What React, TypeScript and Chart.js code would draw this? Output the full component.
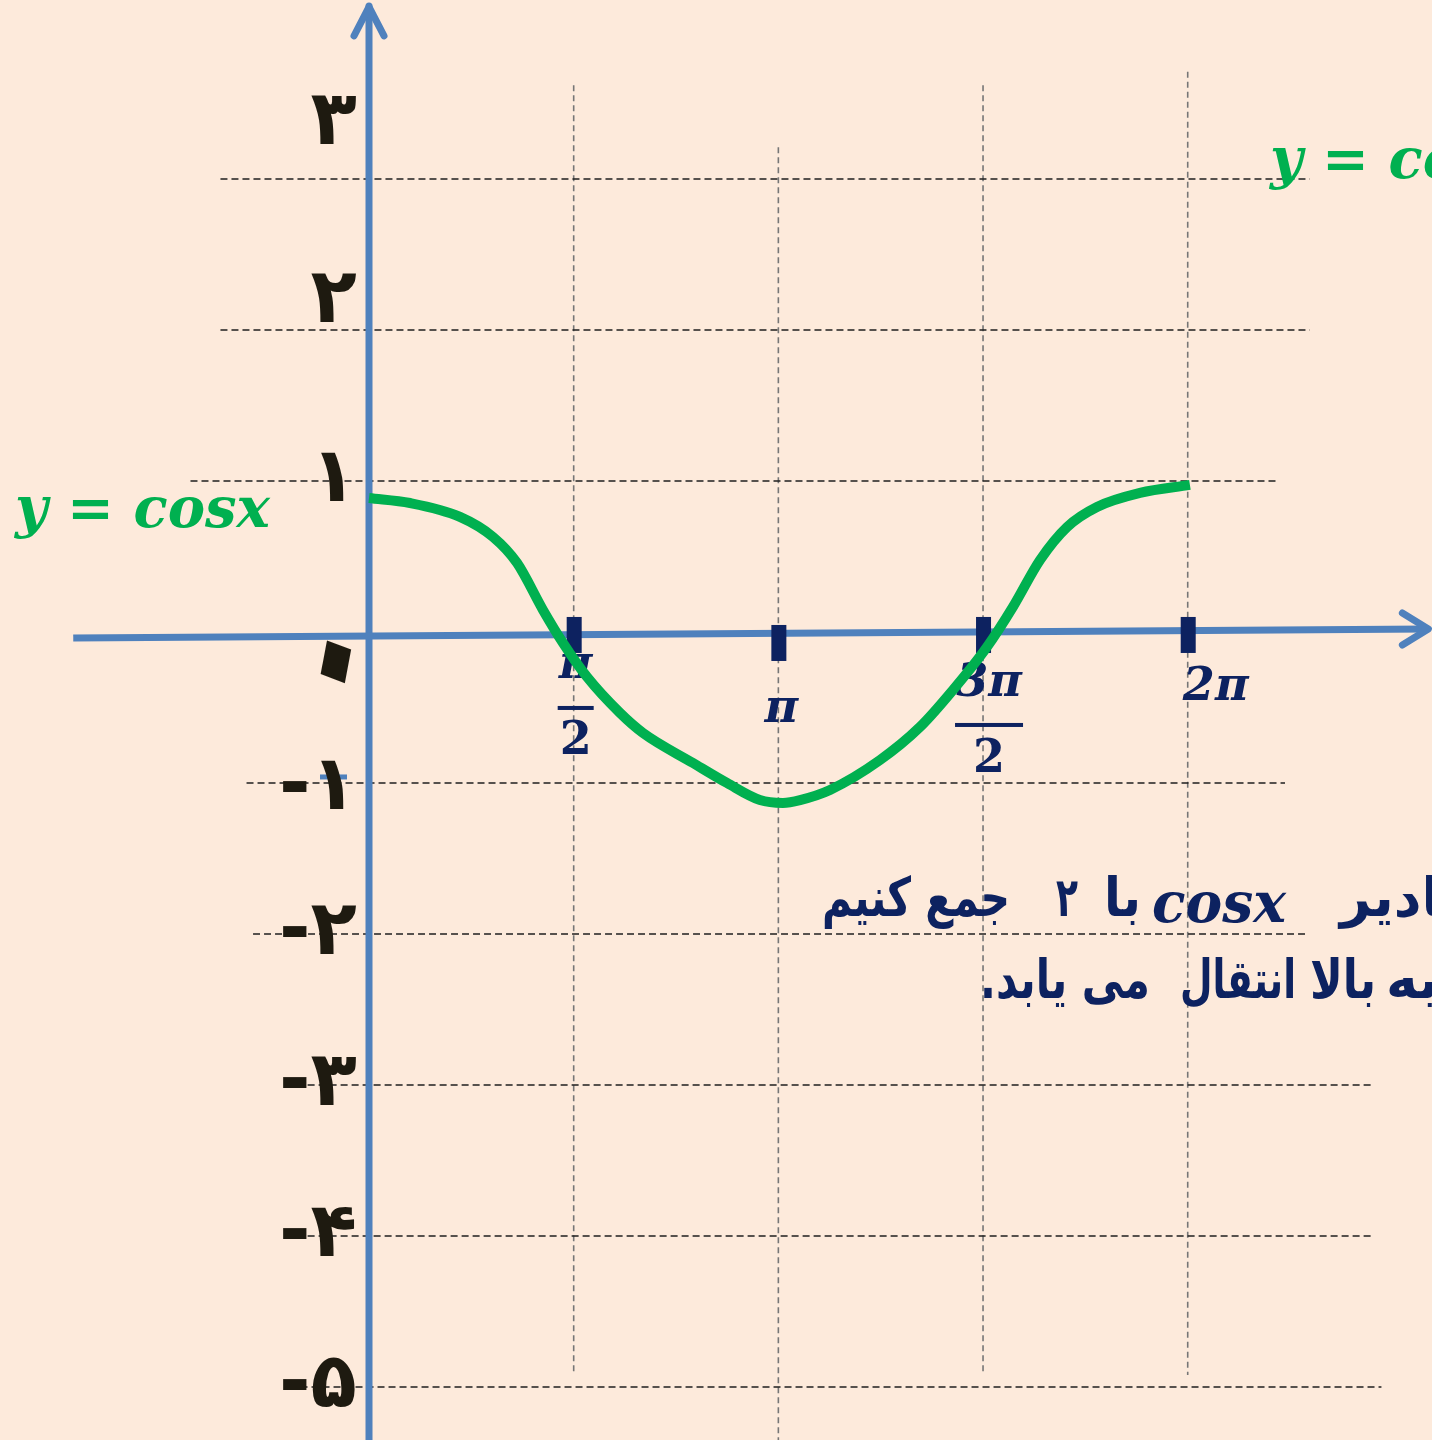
import React, { useEffect, useRef } from "react";
import { Chart, registerables } from "chart.js";

Chart.register(...registerables);

const PI = Math.PI;

// green curve (hand-drawn y = cos x), x in radians
const curveX = [0, 0.315, 0.698, 0.952, 1.136, 1.335, 1.489, 1.673, 1.926, 2.103, 2.487, 2.747, 3.0, 3.177, 3.308, 3.538, 3.922, 4.229, 4.482, 4.743, 4.942, 5.15, 5.357, 5.587, 5.917, 6.3];
const curveY = [0.887, 0.854, 0.762, 0.629, 0.457, 0.146, -0.073, -0.298, -0.536, -0.669, -0.868, -1.0, -1.113, -1.132, -1.113, -1.046, -0.848, -0.629, -0.384, -0.099, 0.166, 0.477, 0.695, 0.828, 0.921, 0.974];

// x ticks (multiples of pi/2) and their labels [numerator, denominator]
const xTickValues = [PI / 2, PI, (3 * PI) / 2, 2 * PI];
const xTickLabels: string[][] = [["π", "2"], ["π"], ["3π", "2"], ["2π"]];

// y ticks and Persian labels
const yTickValues = [3, 2, 1, 0, -1, -2, -3, -4, -5];
const yTickLabels = ["۳", "۲", "۱", "۰", "-۱", "-۲", "-۳", "-۴", "-۵"];

// dashed horizontal grid spans (x from / to, radians) per y tick
const hGridFrom = [-1.14, -1.14, -1.37, NaN, -0.94, -0.89, -0.64, -0.64, -0.61];
const hGridTo = [7.22, 7.22, 6.98, NaN, 7.03, 7.2, 7.71, 7.71, 7.77];
// dashed vertical grid spans (y from / to) per x tick
const vGridTop = [3.62, 3.21, 3.62, 3.71];
const vGridBottom = [-4.92, -5.4, -4.92, -4.92];

const equationText = "y = cosx";
const line1Parts = ["جمع کنیم", "۲", "با", "cosx", "اگر مقادیر"];
const line2Parts = ["می یابد.", "انتقال", "بالا", "نمودار به"];

const BG = "#FDEADB";
const AXIS = "#4F81BD";
const NAVY = "#0D2260";
const GREEN = "#00B050";
const INK = "#1E1A10";

function fitText(
  ctx: CanvasRenderingContext2D,
  text: string,
  left: number,
  right: number | null,
  baseline: number,
  font: string,
  color: string,
  dir: CanvasDirection = "ltr"
) {
  ctx.save();
  ctx.font = font;
  ctx.direction = dir;
  ctx.textAlign = "left";
  ctx.textBaseline = "alphabetic";
  ctx.fillStyle = color;
  const w = ctx.measureText(text).width;
  const sx = right != null ? (right - left) / w : 1;
  ctx.translate(left, baseline);
  ctx.scale(sx, 1);
  ctx.fillText(text, 0, 0);
  ctx.restore();
}

const slidePlugin = {
  id: "slide",
  beforeDraw(chart: any) {
    const ctx = chart.ctx as CanvasRenderingContext2D;
    ctx.save();
    ctx.fillStyle = BG;
    ctx.fillRect(0, 0, chart.width, chart.height);
    ctx.restore();
  },
  beforeDatasetsDraw(chart: any) {
    const ctx = chart.ctx as CanvasRenderingContext2D;
    const xs = chart.scales.x;
    const ys = chart.scales.y;
    const X = (v: number) => xs.getPixelForValue(v);
    const Y = (v: number) => ys.getPixelForValue(v);
    const x0 = X(0);
    const y0 = Y(0);

    // vertical dashed grid
    ctx.save();
    ctx.strokeStyle = "#767676";
    ctx.lineWidth = 1.6;
    ctx.setLineDash([6, 4]);
    xTickValues.forEach((v, i) => {
      ctx.beginPath();
      ctx.moveTo(X(v), Y(vGridTop[i]));
      ctx.lineTo(X(v), Y(vGridBottom[i]));
      ctx.stroke();
    });
    // horizontal dashed grid
    ctx.strokeStyle = "#1f1f1f";
    ctx.lineWidth = 1.6;
    ctx.setLineDash([7, 4]);
    yTickValues.forEach((v, i) => {
      if (isNaN(hGridFrom[i])) return;
      ctx.beginPath();
      ctx.moveTo(X(hGridFrom[i]), Y(v));
      ctx.lineTo(X(hGridTo[i]), Y(v));
      ctx.stroke();
    });
    ctx.restore();

    // axes
    ctx.save();
    ctx.strokeStyle = AXIS;
    ctx.lineWidth = 7;
    ctx.lineCap = "round";
    ctx.lineJoin = "round";
    // y axis
    const yTip = Y(4.146);
    ctx.beginPath();
    ctx.moveTo(x0, chart.height + 10);
    ctx.lineTo(x0, yTip);
    ctx.stroke();
    ctx.beginPath();
    ctx.moveTo(x0 - 15, yTip + 30);
    ctx.lineTo(x0, yTip + 1);
    ctx.lineTo(x0 + 15, yTip + 30);
    ctx.stroke();
    // x axis
    const xTip = X(8.13);
    ctx.lineCap = "butt";
    ctx.beginPath();
    ctx.moveTo(X(-2.27), y0 + 6);
    ctx.lineTo(xTip, y0 - 3);
    ctx.stroke();
    ctx.lineCap = "round";
    ctx.beginPath();
    ctx.moveTo(xTip - 26, y0 - 19);
    ctx.lineTo(xTip, y0 - 3);
    ctx.lineTo(xTip - 26, y0 + 13);
    ctx.stroke();
    // small blue tick at y = -1
    ctx.lineWidth = 5;
    ctx.lineCap = "butt";
    ctx.beginPath();
    ctx.moveTo(x0 - 49, Y(-1) - 6);
    ctx.lineTo(x0 - 22, Y(-1) - 6);
    ctx.stroke();
    ctx.restore();

    // navy tick marks on x axis
    ctx.save();
    ctx.fillStyle = NAVY;
    xTickValues.forEach((v, i) => {
      const dy = i === 1 ? 8 : 0;
      ctx.fillRect(X(v) - 7, y0 - 15 + dy, 15, 36);
    });
    ctx.restore();

    // x tick labels
    ctx.save();
    ctx.fillStyle = NAVY;
    ctx.textAlign = "center";
    ctx.textBaseline = "middle";
    const piFont = "bold italic 46px 'DejaVu Serif'";
    const numFont = "bold 46px 'DejaVu Serif'";
    xTickLabels.forEach((lab, i) => {
      const px = X(xTickValues[i]);
      if (lab.length === 2) {
        const big = lab[0].length > 1;
        const cx = px + (big ? 6 : 2);
        const numY = y0 + (big ? 52 : 34);
        const barY = y0 + (big ? 93 : 76);
        const denY = y0 + (big ? 128 : 110);
        const half = big ? 34 : 18;
        ctx.font = piFont;
        ctx.fillText(lab[0], cx, numY);
        ctx.fillRect(cx - half, barY - 2, half * 2, 4);
        ctx.font = numFont;
        ctx.fillText(lab[1], cx, denY);
      } else {
        const big = lab[0].length > 1;
        ctx.font = piFont;
        ctx.fillText(lab[0], px + (big ? 28 : 3), y0 + (big ? 56 : 78));
      }
    });
    ctx.restore();

    // y tick labels (Persian digits)
    ctx.save();
    ctx.fillStyle = INK;
    ctx.textAlign = "right";
    ctx.textBaseline = "middle";
    ctx.direction = "ltr";
    yTickLabels.forEach((lab, i) => {
      const v = yTickValues[i];
      const py = Y(v);
      if (v === 0) {
        ctx.save();
        ctx.translate(x0 - 34, py + 34);
        ctx.scale(1.2, 1.7);
        ctx.rotate(Math.PI / 12);
        ctx.font = "bold 120px 'DejaVu Sans'";
        ctx.textAlign = "center";
        ctx.fillText(lab, 0, 0);
        ctx.restore();
        return;
      }
      const dy = v === 3 ? -55 : v === 2 ? -28 : v === -1 ? 6 : 0;
      ctx.font = "bold 76px 'DejaVu Sans'";
      ctx.fillText(lab, x0 - 12, py + dy);
    });
    ctx.restore();
  },
  afterDatasetsDraw(chart: any) {
    const ctx = chart.ctx as CanvasRenderingContext2D;
    const eqFont = "bold italic 56px 'DejaVu Serif'";
    // left equation label
    fitText(ctx, equationText, 15, 270, 527, eqFont, GREEN);
    // clipped equation at top right
    fitText(ctx, equationText, 1270, 1270 + 255, 178, eqFont, GREEN);

    // Persian sentence (clipped at right edge)
    const faFont = "bold 54px 'DejaVu Sans'";
    const b1 = 916;
    fitText(ctx, line1Parts[0], 822, 1010, b1, faFont, NAVY, "rtl");
    fitText(ctx, line1Parts[1], 1056, 1078, b1, faFont, NAVY, "rtl");
    fitText(ctx, line1Parts[2], 1104, 1141, b1, faFont, NAVY, "rtl");
    fitText(ctx, line1Parts[3], 1152, 1286, 922, "bold italic 56px 'DejaVu Serif'", NAVY, "ltr");
    fitText(ctx, line1Parts[4], 1340, null, b1, faFont, NAVY, "rtl");
    const b2 = 998;
    fitText(ctx, line2Parts[0], 980, 1150, b2, faFont, NAVY, "rtl");
    fitText(ctx, line2Parts[1], 1180, 1296, b2, faFont, NAVY, "rtl");
    fitText(ctx, line2Parts[2], 1310, 1376, b2, faFont, NAVY, "rtl");
    fitText(ctx, line2Parts[3], 1386, null, b2, faFont, NAVY, "rtl");
  },
};

export default function App() {
  const canvasRef = useRef<HTMLCanvasElement | null>(null);

  useEffect(() => {
    document.body.style.margin = "0";
    document.body.style.background = BG;
    const canvas = canvasRef.current;
    if (!canvas) return;
    const chart = new Chart(canvas, {
      type: "line",
      data: {
        datasets: [
          {
            label: "y = cosx",
            data: curveX.map((x, i) => ({ x, y: curveY[i] })),
            borderColor: GREEN,
            borderWidth: 10,
            pointRadius: 0,
            tension: 0.4,
            cubicInterpolationMode: "monotone",
            fill: false,
            borderCapStyle: "butt",
          } as any,
        ],
      },
      options: {
        responsive: false,
        animation: false,
        layout: { padding: 0 },
        plugins: { legend: { display: false }, tooltip: { enabled: false } },
        scales: {
          x: { type: "linear", min: -2.832, max: 8.158, display: false },
          y: { type: "linear", min: -5.351, max: 4.185, display: false },
        },
      },
      plugins: [slidePlugin],
    });
    return () => chart.destroy();
  }, []);

  return (
    <canvas
      ref={canvasRef}
      width={1432}
      height={1440}
      style={{ display: "block", width: 1432, height: 1440 }}
    />
  );
}
